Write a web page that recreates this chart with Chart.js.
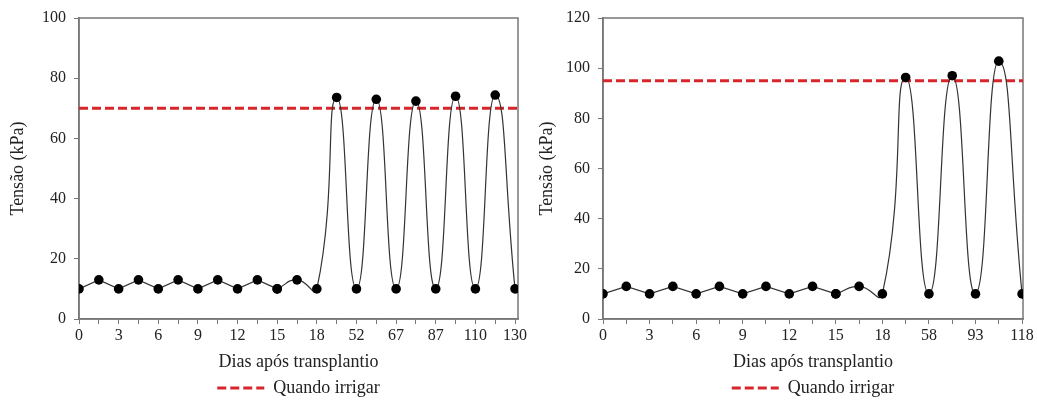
<html>
	<head>
		<script src="https://cdn.jsdelivr.net/npm/chart.js"></script>
		<style>
			body { margin:0; background:#fff; }
			#chartA, #chartB { position:absolute; top:0; }
			#chartA { left:0; }
			#chartB { left:532px; }
		</style>
	</head>
	<body>
		<canvas id="chartA" width="532" height="403"></canvas>
		<canvas id="chartB" width="505" height="403"></canvas>
	</body>
	<script>
		// Left panel: tick labels every 2nd reading, tension readings, irrigation limit
		const labelsA = ['0','3','6','9','12','15','18','52','67','87','110','130'];
		const tensionA = [10,13,10,13,10,13,10,13,10,13,10,13,10,73.6,10,73,10,72.4,10,74,10,74.4,10];
		const limitA = 70;

		// Right panel
		const labelsB = ['0','3','6','9','12','15','18','58','93','118'];
		const tensionB = [10,13,10,13,10,13,10,13,10,13,10,13,10,96.3,10,97,10,102.8,10];
		const limitB = 95;

		// readings after this index are drawn as a smooth curve
		const smoothFrom = 10;

		const FONT = "'Liberation Serif', 'Times New Roman', serif";
		const AXIS = '#777';
		const TEXT = '#222';
		const RED = '#d7262b';
		const DASH = [9, 4];

		// box around the plot area
		const frame = {
			id: 'frame',
			beforeDatasetsDraw(chart) {
				const {ctx, chartArea: a} = chart;
				ctx.save();
				ctx.strokeStyle = AXIS;
				ctx.lineWidth = 1.5;
				ctx.strokeRect(a.left, a.top, a.right - a.left, a.bottom - a.top);
				ctx.restore();
			}
		};

		function makeChart(id, labels, values, limit, yMax, xMax, axisWidth, padRight, yTitlePad) {
			let pts = values.map((v, i) => ({x: i, y: v}));
			let ctx = document.getElementById(id).getContext('2d');
			return new Chart(ctx, {
				type: 'line',
				data: {
					datasets: [
						{
							label: 'linear',
							data: pts.slice(0, smoothFrom + 1),
							borderColor: '#333', borderWidth: 1.2,
							pointRadius: 4.8, pointBackgroundColor: '#000', pointBorderWidth: 0,
							tension: 0
						},
						{
							label: 'smooth',
							data: pts.slice(smoothFrom),
							borderColor: '#333', borderWidth: 1.2,
							pointRadius: 4.8, pointBackgroundColor: '#000', pointBorderWidth: 0,
							tension: 0.55
						},
						{
							label: 'Quando irrigar',
							data: [{x: 0, y: limit}, {x: xMax, y: limit}],
							borderColor: RED, borderWidth: 3, borderDash: DASH,
							pointRadius: 0
						}
					]
				},
				options: {
					responsive: false,
					animation: false,
					layout: {padding: {top: 18, right: padRight, left: 0, bottom: -4}},
					plugins: {
						tooltip: {enabled: false},
						legend: {
							position: 'bottom',
							fullSize: false,
							labels: {
								usePointStyle: true,
								pointStyleWidth: 47,
								padding: 6,
								color: TEXT,
								font: {family: FONT, size: 18},
								generateLabels: () => [{
									text: 'Quando irrigar', datasetIndex: 2, pointStyle: 'line',
									strokeStyle: RED, fillStyle: RED, lineWidth: 3, lineDash: DASH,
									fontColor: TEXT
								}]
							}
						}
					},
					scales: {
						x: {
							type: 'linear', min: 0, max: xMax,
							afterFit: s => { s.height = 54; },
							border: {color: AXIS, width: 1.5},
							grid: {drawOnChartArea: false, tickLength: 5, color: AXIS},
							ticks: {
								stepSize: 1, includeBounds: false, autoSkip: false, maxRotation: 0,
								padding: 2, color: TEXT, font: {family: FONT, size: 16},
								callback: v => (v % 2 === 0 ? labels[v / 2] : '')
							},
							title: {display: true, text: 'Dias após transplantio', color: TEXT,
								font: {family: FONT, size: 18}, padding: 0}
						},
						y: {
							min: 0, max: yMax,
							afterFit: s => { s.width = axisWidth; },
							border: {color: AXIS, width: 1.5},
							grid: {drawOnChartArea: false, tickLength: 5, color: AXIS},
							ticks: {stepSize: 20, padding: 8, color: TEXT, font: {family: FONT, size: 16}},
							title: {display: true, text: 'Tensão (kPa)', color: TEXT,
								font: {family: FONT, size: 18}, padding: {top: yTitlePad, bottom: 0}}
						}
					}
				},
				plugins: [frame]
			});
		}

		makeChart('chartA', labelsA, tensionA, limitA, 100, 22.15, 79, 14, 7);
		makeChart('chartB', labelsB, tensionB, limitB, 120, 18.04, 71, 14, 4);
	</script>
</html>
